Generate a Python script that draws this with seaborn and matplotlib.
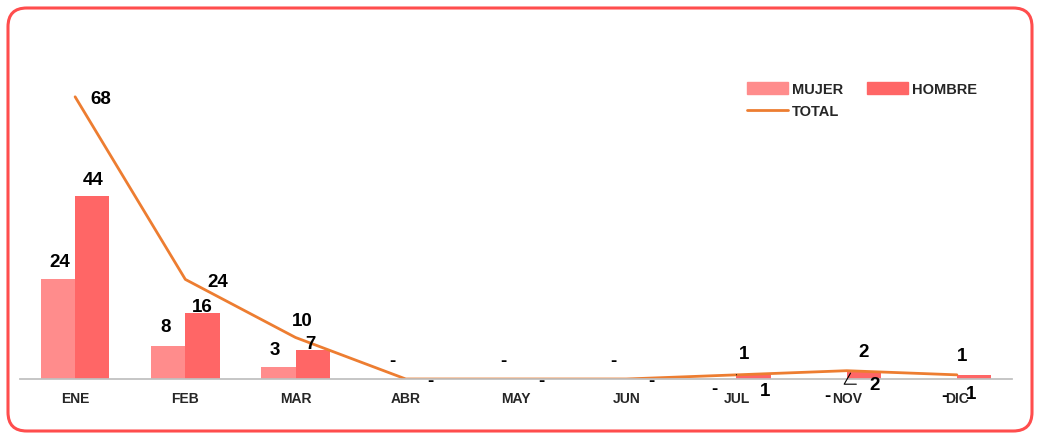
import matplotlib
matplotlib.use("Agg")
import matplotlib.pyplot as plt
import pandas as pd
import seaborn as sns
from matplotlib.patches import FancyBboxPatch, Patch
from matplotlib.lines import Line2D

meses = ["ENE", "FEB", "MAR", "ABR", "MAY", "JUN", "JUL", "NOV", "DIC"]
mujer = [24, 8, 3, 0, 0, 0, 0, 0, 0]
hombre = [44, 16, 7, 0, 0, 0, 1, 2, 1]
total = [68, 24, 10, 0, 0, 0, 1, 2, 1]

# label offsets in pixels from the mark (bar top / line point)
off_mujer = [(2, 18), (-3, 19), (-4, 17), (4, 18), (4, 18), (4, 18), (-5, -10), (-2, -17), (5, -17)]
off_hombre = [(1, 17), (0, 6), (-2, 6), (8, -2), (8, -2), (8, -2), (12, -16), (24, -11), (-3, -19)]
off_total = [(26, -2), (32, -2), (7, 17), None, None, None, (8, 21), (17, 19), (5, 19)]

C_MUJER = "#FF8C8C"
C_HOMBRE = "#FF6666"
C_TOTAL = "#ED7D31"

sns.set_theme(style="white")
plt.rcParams["font.family"] = ["Liberation Sans", "DejaVu Sans"]

df = pd.DataFrame({"mes": meses, "MUJER": mujer, "HOMBRE": hombre})
long = df.melt(id_vars="mes", var_name="sexo", value_name="n")

fig = plt.figure(figsize=(10.4, 4.39), dpi=100)
ax = fig.add_axes([20 / 1040, 1 - 380 / 439, 992 / 1040, 332 / 439])

sns.barplot(data=long, x="mes", y="n", hue="sexo", order=meses,
            hue_order=["MUJER", "HOMBRE"], palette=[C_MUJER, C_HOMBRE],
            width=0.62, gap=0, saturation=1, linewidth=0, edgecolor="none",
            ax=ax, legend=False)
sns.lineplot(x=list(range(len(meses))), y=total, color=C_TOTAL, lw=2, ax=ax,
             legend=False)

ax.set_xlim(-0.5, len(meses) - 0.5)
ax.set_ylim(0, 80)
ax.set_xlabel("")
ax.set_ylabel("")
ax.set_yticks([])
for s in ["top", "left", "right"]:
    ax.spines[s].set_visible(False)
ax.spines["bottom"].set_color("#BFBFBF")
ax.set_xticks(range(len(meses)))
ax.set_xticklabels(meses, fontsize=10, fontweight="bold")
ax.tick_params(axis="x", which="major", length=0, pad=9)
ax.set_xticks([i + 0.5 for i in range(-1, len(meses))], minor=True)
ax.tick_params(axis="x", which="minor", length=5, color="#BFBFBF", direction="out")

bw = 0.31
kw = dict(textcoords="offset pixels", ha="center", va="center",
          fontsize=13.5, fontweight="bold", color="black")

for i, (m, h, t) in enumerate(zip(mujer, hombre, total)):
    xm = i - bw / 2
    xh = i + bw / 2
    ax.annotate(str(m) if m else "-", (xm, m), xytext=off_mujer[i], **kw)
    if i == 7:
        ax.annotate(str(h), (xh - 0.12, h * 0.7), xytext=off_hombre[i],
                    arrowprops=dict(arrowstyle="-", color="black", lw=0.8,
                                    shrinkA=7, shrinkB=0,
                                    connectionstyle="angle,angleA=0,angleB=60"),
                    **kw)
    else:
        ax.annotate(str(h) if h else "-", (xh, h), xytext=off_hombre[i], **kw)
    if off_total[i] is not None:
        if i == 6:
            ax.annotate(str(t), (i, t), xytext=off_total[i],
                        arrowprops=dict(arrowstyle="-", color="black", lw=0.8,
                                        shrinkA=7, shrinkB=0), **kw)
        else:
            ax.annotate(str(t), (i, t), xytext=off_total[i], **kw)

handles = [Patch(color=C_MUJER), Line2D([], [], color=C_TOTAL, lw=2),
           Patch(color=C_HOMBRE)]
labels = ["MUJER", "TOTAL", "HOMBRE"]
fig.legend(handles, labels, ncol=2, loc="upper left",
           bbox_to_anchor=(734 / 1040, 1 - 70 / 439), frameon=False,
           prop={"weight": "bold", "size": 10.5}, handlelength=2.8,
           handleheight=0.9, columnspacing=1.6, labelspacing=0.55,
           handletextpad=0.3)

border = FancyBboxPatch((8 / 1040, 7 / 439), 1024 / 1040, 423 / 439,
                        boxstyle="round,pad=0,rounding_size=0.018",
                        transform=fig.transFigure, fill=False,
                        edgecolor="#FF4D4D", lw=2.2, mutation_aspect=1040 / 439)
fig.patches.append(border)

fig.savefig("out.png", dpi=100)
plt.close(fig)
